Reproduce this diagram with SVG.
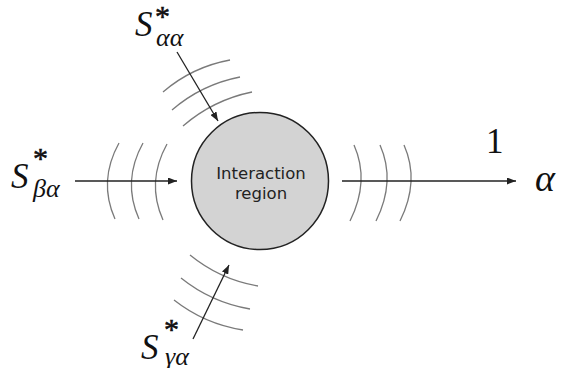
<svg xmlns="http://www.w3.org/2000/svg" width="562" height="368" viewBox="0 0 562 368">
<style>
.arc{fill:none;stroke:#7a7a7a;stroke-width:1.3}
.arr{fill:none;stroke:#222;stroke-width:1.3}
.m{font-family:"Liberation Serif","Times New Roman",serif;font-style:italic;fill:#111}
.ast{font-family:"Liberation Serif","Times New Roman",serif;font-size:30px;fill:#111;stroke:#111;stroke-width:0.6}
.lbl{font-family:"DejaVu Sans",sans-serif;font-size:16.5px;fill:#222;text-anchor:middle}
</style>
<defs>
<marker id="ah" markerWidth="9" markerHeight="7" refX="9" refY="3.5" orient="auto" markerUnits="userSpaceOnUse">
<path d="M0,0 L9,3.5 L0,7 z" fill="#222"/>
</marker>
</defs>
<g id="waves">
<path class="arc" d="M119,143 Q98,181 115,219"/>
<path class="arc" d="M143,143 Q122,181 139,219"/>
<path class="arc" d="M167,144 Q146,182 163,220"/>
<path class="arc" d="M354,145 Q370,181 350,221"/>
<path class="arc" d="M380,145 Q396,181 376,221"/>
<path class="arc" d="M404,145 Q420,181 400,221"/>
<path class="arc" d="M163,92 Q192,67 230,60"/>
<path class="arc" d="M172,110 Q201.5,84.5 240,77"/>
<path class="arc" d="M183,126 Q213,100 252,92"/>
<path class="arc" d="M190,255 Q220,279.5 258,286"/>
<path class="arc" d="M181,278 Q211.5,302.5 250,309"/>
<path class="arc" d="M174,300 Q204.5,324 243,330"/>
</g>
<g id="connectors">
<line class="arr" x1="75" y1="181" x2="177" y2="181" marker-end="url(#ah)"/>
<line class="arr" x1="342" y1="181" x2="516" y2="181" marker-end="url(#ah)"/>
<line class="arr" x1="177" y1="52" x2="218" y2="121" marker-end="url(#ah)"/>
<line class="arr" x1="193" y1="339" x2="229" y2="265" marker-end="url(#ah)"/>
</g>
<g id="interaction-region">
<circle cx="260" cy="181" r="68.5" fill="#d3d3d3" stroke="#222" stroke-width="1.5"/>
<text class="lbl" x="261" y="179">Interaction</text>
<text class="lbl" x="261" y="199">region</text>
</g>
<g id="label-aa">
<text class="m" x="135" y="36" font-size="35">S</text>
<text class="ast" x="155" y="26">*</text>
<text class="m" x="156" y="46" font-size="26">αα</text>
</g>
<g id="label-ba">
<text class="m" x="11" y="188" font-size="35">S</text>
<text class="ast" x="33" y="168">*</text>
<text class="m" x="33" y="197" font-size="26">βα</text>
</g>
<g id="label-ga">
<text class="m" x="141" y="359" font-size="35">S</text>
<text class="ast" x="164" y="339">*</text>
<text class="m" x="165" y="365" font-size="26">γα</text>
</g>
<g id="label-out">
<text x="486" y="153" font-size="35" font-family="Liberation Serif,serif" fill="#111">1</text>
<text class="m" x="535" y="191" font-size="38">α</text>
</g>
</svg>
